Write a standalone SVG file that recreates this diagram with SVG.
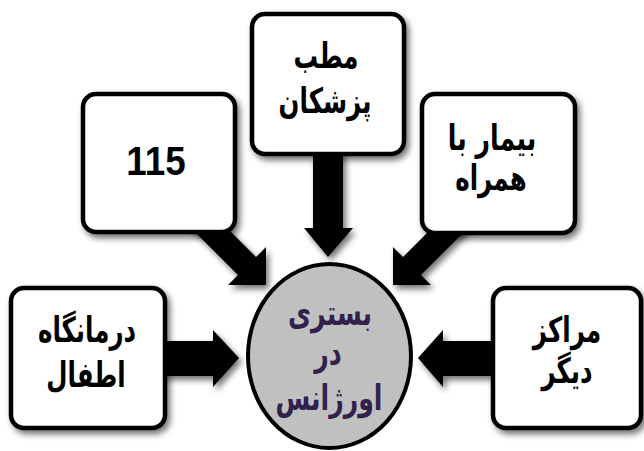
<svg xmlns="http://www.w3.org/2000/svg" width="644" height="451" viewBox="0 0 644 451">
<defs>
<filter id="sh" x="-20%" y="-20%" width="150%" height="150%">
<feGaussianBlur in="SourceAlpha" stdDeviation="3"/>
<feOffset dx="3" dy="4" result="b"/>
<feComponentTransfer><feFuncA type="linear" slope="0.55"/></feComponentTransfer>
<feMerge><feMergeNode/><feMergeNode in="SourceGraphic"/></feMerge>
</filter>
<style>
.box{fill:#ffffff;stroke:#000000;stroke-width:4.5}
.arr{fill:#000000}
.t{font-family:"DejaVu Sans",sans-serif;font-weight:bold;font-size:35px;fill:#000000;text-anchor:middle}
.n{font-family:"Liberation Sans",Arial,sans-serif;font-weight:bold;font-size:40px;fill:#000000;text-anchor:middle}
.c{font-family:"DejaVu Sans",sans-serif;font-weight:bold;font-size:35px;fill:#33214d;text-anchor:middle}
</style>
</defs>
<rect width="644" height="451" fill="#ffffff"/>
<g id="connectors" filter="url(#sh)">
<polygon class="arr" points="160,341 213,341 213,330 239,358 213,387 213,376 160,376"/>
<polygon class="arr" points="498,341 443,341 443,330 418,358 443,387 443,376 498,376"/>
<polygon class="arr" points="313,150 343,150 343,228 353,228 328,257 304,228 313,228"/>
<polygon class="arr" points="221,222 256,257 266,247 266,285 228,285 238,275 185,222"/>
<polygon class="arr" points="438,222 403,257 393,247 393,285 431,285 421,275 474,222"/>
</g>
<g id="node-115">
<rect class="box" x="83" y="94" width="152" height="138" rx="13" filter="url(#sh)"/>
<text class="n" transform="translate(156,175) scale(0.92,1)">115</text>
</g>
<g id="node-matab">
<rect class="box" x="252" y="14" width="152" height="140" rx="13" filter="url(#sh)"/>
<text class="t" transform="translate(326,68) scale(0.7,1)">مطب</text>
<text class="t" transform="translate(325,113) scale(0.7,1)">پزشکان</text>
</g>
<g id="node-bimar">
<rect class="box" x="422" y="94" width="153" height="139" rx="13" filter="url(#sh)"/>
<text class="t" transform="translate(492,150) scale(0.72,1)">بیمار با</text>
<text class="t" transform="translate(491,190) scale(0.7,1)">همراه</text>
</g>
<g id="node-darmangah">
<rect class="box" x="11" y="288" width="154" height="140" rx="13" filter="url(#sh)"/>
<text class="t" transform="translate(87,342) scale(0.7,1)">درمانگاه</text>
<text class="t" transform="translate(86,387) scale(0.7,1)">اطفال</text>
</g>
<g id="node-marakez">
<rect class="box" x="493" y="288" width="148" height="140" rx="13" filter="url(#sh)"/>
<text class="t" transform="translate(567,342) scale(0.7,1)">مراکز</text>
<text class="t" transform="translate(567,383) scale(0.7,1)">دیگر</text>
</g>
<g id="node-center">
<ellipse cx="329.5" cy="356" rx="81.5" ry="92" fill="#c0c0c0" stroke="#000000" stroke-width="4"/>
<text class="c" transform="translate(330,325) scale(0.72,1)">بستری</text>
<text class="c" transform="translate(328,365) scale(0.72,1)">در</text>
<text class="c" transform="translate(329,410) scale(0.72,1)">اورژانس</text>
</g>
</svg>
